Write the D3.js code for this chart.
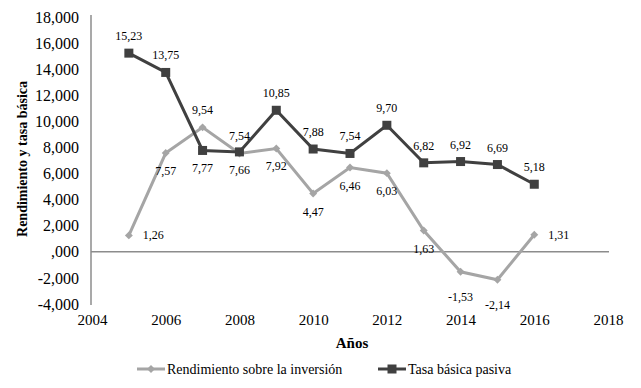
<!DOCTYPE html>
<html>
<head>
<meta charset="utf-8">
<script src="https://cdn.jsdelivr.net/npm/d3@7"></script>
<style>
  body { margin: 0; background: #fff; }
</style>
</head>
<body>
<div id="chart"></div>
<script>
  var years = [2005, 2006, 2007, 2008, 2009, 2010, 2011, 2012, 2013, 2014, 2015, 2016]
  var rendimiento = [1.26, 7.57, 9.54, 7.54, 7.92, 4.47, 6.46, 6.03, 1.63, -1.53, -2.14, 1.31]
  var tasa = [15.23, 13.75, 7.77, 7.66, 10.85, 7.88, 7.54, 9.70, 6.82, 6.92, 6.69, 5.18]
  var yTicks = [-4, -2, 0, 2, 4, 6, 8, 10, 12, 14, 16, 18]
  var yTickLabels = ['-4,000', '-2,000', ',000', '2,000', '4,000', '6,000', '8,000', '10,000', '12,000', '14,000', '16,000', '18,000']
  var xTicks = [2004, 2006, 2008, 2010, 2012, 2014, 2016, 2018]

  // where each value label sits relative to its point
  var rendPlace = ['right', 'below', 'above', 'above', 'below', 'below', 'below', 'below', 'below', 'below2', 'below2', 'right']
  var tasaPlace = ['above', 'above', 'below', 'below', 'above', 'above', 'above', 'above', 'above', 'above', 'above', 'above']

  var fmt = d => d.toFixed(2).replace('.', ',')
  var serif = 'Liberation Serif'

  var width = 641
  var height = 388

  var svg = d3.select('#chart')
    .append('svg')
    .attr('width', width)
    .attr('height', height)

  var x = d3.scaleLinear().domain([2004, 2018]).range([92, 608])
  var y = d3.scaleLinear().domain([-4, 18]).range([304, 17])

  // y axis
  var yAxis = d3.axisLeft(y)
    .tickValues(yTicks)
    .tickFormat((d, i) => yTickLabels[i])
    .tickSize(0)
    .tickPadding(12)

  var yg = svg.append('g')
    .attr('transform', 'translate(91,0)')
    .call(yAxis)
  yg.select('.domain').attr('stroke', '#8c8c8c').attr('stroke-width', 1.5)
    .attr('d', 'M0,' + (y(18) - 2) + 'V' + (y(-4) + 1))
  yg.selectAll('text')
    .style('font-family', serif)
    .style('font-size', '16px')
    .attr('fill', '#000')

  // zero line
  svg.append('line')
    .attr('x1', 91)
    .attr('x2', x(2018) + 1)
    .attr('y1', y(0))
    .attr('y2', y(0))
    .attr('stroke', '#8c8c8c')
    .attr('stroke-width', 1.5)

  // x axis labels only
  var xAxis = d3.axisBottom(x)
    .tickValues(xTicks)
    .tickFormat(d => d)
    .tickSize(0)
    .tickPadding(10)

  var xg = svg.append('g')
    .attr('transform', 'translate(0,' + y(-4) + ')')
    .call(xAxis)
  xg.select('.domain').remove()
  xg.selectAll('text')
    .style('font-family', serif)
    .style('font-size', '15px')
    .attr('fill', '#000')

  // axis titles
  svg.append('text')
    .text('Rendimiento y tasa básica')
    .attr('transform', 'translate(27,159) rotate(-90)')
    .attr('text-anchor', 'middle')
    .style('font-family', serif)
    .style('font-weight', 'bold')
    .style('font-size', '14px')

  svg.append('text')
    .text('Años')
    .attr('x', 352)
    .attr('y', 348)
    .attr('text-anchor', 'middle')
    .style('font-family', serif)
    .style('font-weight', 'bold')
    .style('font-size', '15px')

  var line = d3.line()
    .x(d => x(d.year))
    .y(d => y(d.value))

  var rendData = years.map((yr, i) => ({ year: yr, value: rendimiento[i], place: rendPlace[i] }))
  var tasaData = years.map((yr, i) => ({ year: yr, value: tasa[i], place: tasaPlace[i] }))

  var rendColor = '#a5a5a5'
  var tasaColor = '#404040'

  svg.append('path')
    .attr('d', line(rendData))
    .attr('fill', 'none')
    .attr('stroke', rendColor)
    .attr('stroke-width', 3)

  svg.append('path')
    .attr('d', line(tasaData))
    .attr('fill', 'none')
    .attr('stroke', tasaColor)
    .attr('stroke-width', 3)

  svg.selectAll('.diamond')
    .data(rendData)
    .enter().append('path')
    .attr('class', 'diamond')
    .attr('d', d3.symbol().type(d3.symbolDiamond2).size(40))
    .attr('transform', d => `translate(${x(d.year)},${y(d.value)})`)
    .attr('fill', rendColor)

  svg.selectAll('.square')
    .data(tasaData)
    .enter().append('rect')
    .attr('class', 'square')
    .attr('x', d => x(d.year) - 4.5)
    .attr('y', d => y(d.value) - 4.5)
    .attr('width', 9)
    .attr('height', 9)
    .attr('fill', tasaColor)

  function labelX(d) {
    return d.place === 'right' ? x(d.year) + 14 : x(d.year)
  }
  function labelY(d) {
    var py = y(d.value)
    if (d.place === 'above') return py - 13
    if (d.place === 'below') return py + 22
    if (d.place === 'below2') return py + 29
    return py + 4
  }

  svg.selectAll('.lbl')
    .data(rendData.concat(tasaData))
    .enter().append('text')
    .attr('class', 'lbl')
    .text(d => fmt(d.value))
    .attr('x', labelX)
    .attr('y', labelY)
    .attr('text-anchor', d => d.place === 'right' ? 'start' : 'middle')
    .style('font-family', serif)
    .style('font-size', '12px')

  // legend
  var legend = svg.append('g').attr('transform', 'translate(0,369)')
  var items = [
    { name: 'Rendimiento sobre la inversión', color: rendColor, x: 137, marker: 'diamond' },
    { name: 'Tasa básica pasiva', color: tasaColor, x: 378, marker: 'square' }
  ]
  items.forEach(it => {
    legend.append('line')
      .attr('x1', it.x).attr('x2', it.x + 28)
      .attr('y1', 0).attr('y2', 0)
      .attr('stroke', it.color).attr('stroke-width', 3)
    if (it.marker === 'diamond') {
      legend.append('path')
        .attr('d', d3.symbol().type(d3.symbolDiamond2).size(40))
        .attr('transform', `translate(${it.x + 14},0)`)
        .attr('fill', it.color)
    } else {
      legend.append('rect')
        .attr('x', it.x + 14 - 4.5).attr('y', -4.5)
        .attr('width', 9).attr('height', 9)
        .attr('fill', it.color)
    }
    legend.append('text')
      .text(it.name)
      .attr('x', it.x + 30)
      .attr('y', 5)
      .style('font-family', serif)
      .style('font-size', '14px')
  })
</script>
</body>
</html>
